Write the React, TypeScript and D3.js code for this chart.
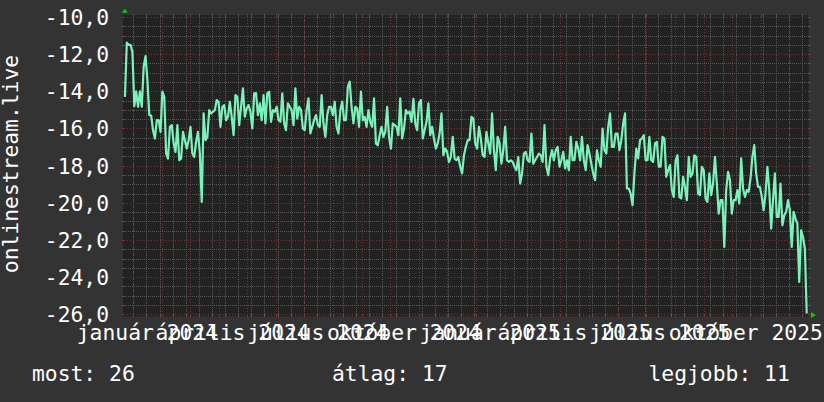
import React, { useEffect } from 'react';
import * as d3 from 'd3';

const W = 824;
const H = 402;

// data: one reading every 2 days, starting 2023-12-23
const seriesStart = Date.UTC(2023, 11, 23);
const stepDays = 2;
const values: number[] = [
  -14.3, -11.38, -11.5, -11.5, -11.9, -14.8, -14.0, -14.83, -14.0, -14.83,
  -12.68, -12.1, -13.4, -15.28, -15.3, -16.1, -16.54, -15.55, -15.55, -16.18,
  -14.02, -14.3, -17.35, -17.62, -15.91, -15.82, -16.8, -17.26, -15.82, -17.7,
  -17.62, -16.18, -16.63, -17.08, -16.63, -15.91, -17.35, -17.53, -16.7, -16.18,
  -17.35, -19.95, -15.19, -16.63, -16.45, -15.01, -15.19, -15.1, -15.01, -14.47,
  -14.56, -15.91, -14.83, -14.74, -15.55, -15.37, -14.56, -15.37, -16.36, -14.2,
  -14.29, -15.82, -14.83, -13.84, -15.37, -14.92, -14.74, -15.1, -16.0, -14.11,
  -14.1, -15.28, -14.65, -15.55, -14.2, -15.73, -14.11, -14.02, -15.64, -15.01,
  -15.1, -14.83, -15.55, -15.64, -14.11, -15.73, -16.09, -14.65, -14.83, -15.01,
  -15.82, -13.84, -15.46, -14.83, -15.01, -16.0, -16.09, -15.01, -14.38, -16.27,
  -15.91, -15.55, -15.28, -15.82, -15.91, -14.2, -15.73, -16.45, -15.28, -14.83,
  -14.83, -15.28, -14.56, -15.91, -16.27, -15.01, -14.56, -15.55, -15.55, -13.75,
  -13.48, -14.83, -15.73, -14.83, -14.92, -15.91, -14.02, -15.55, -15.37, -15.91,
  -15.01, -15.64, -15.91, -14.38, -16.8, -16.9, -16.36, -15.91, -16.45, -16.18,
  -14.83, -16.45, -17.08, -15.73, -15.82, -15.91, -16.36, -14.38, -16.54, -16.0,
  -15.01, -15.19, -15.1, -15.64, -14.4, -15.73, -16.09, -14.65, -14.47, -16.54,
  -16.09, -15.64, -14.65, -16.36, -15.91, -16.54, -17.08, -16.8, -16.27, -15.19,
  -17.44, -17.08, -17.26, -17.8, -17.53, -16.45, -17.62, -17.71, -17.53, -18.06,
  -18.42, -17.44, -16.99, -16.63, -16.63, -15.37, -15.46, -16.8, -17.08, -15.91,
  -16.54, -17.44, -17.53, -16.18, -16.8, -17.35, -15.19, -17.17, -18.24, -16.45,
  -16.8, -17.89, -17.17, -15.91, -17.71, -17.8, -17.71, -17.8, -18.06, -18.24,
  -17.53, -18.96, -18.42, -17.35, -17.26, -17.71, -17.8, -16.27, -17.89, -17.71,
  -17.53, -17.35, -17.44, -17.8, -15.82, -18.06, -18.51, -17.62, -17.17, -17.71,
  -17.17, -16.99, -18.06, -17.71, -17.26, -18.15, -17.71, -18.24, -16.45, -17.71,
  -17.71, -16.72, -17.08, -17.71, -16.45, -17.71, -18.24, -16.9, -17.35, -17.89,
  -18.42, -18.78, -17.17, -17.71, -18.06, -16.0, -17.17, -17.35, -15.91, -15.19,
  -16.99, -16.99, -16.27, -16.27, -17.17, -16.63, -15.73, -15.19, -19.23, -19.23,
  -19.5, -20.13, -18.42, -17.08, -17.61, -16.63, -16.54, -16.36, -17.71, -17.71,
  -16.45, -17.71, -17.8, -16.8, -16.72, -18.06, -18.06, -16.45, -16.54, -18.6,
  -18.24, -17.97, -19.32, -19.68, -17.71, -17.44, -19.68, -19.77, -18.6, -19.14,
  -19.86, -17.53, -18.6, -18.42, -17.44, -17.53, -19.5, -19.59, -18.06, -18.24,
  -19.77, -19.95, -18.42, -19.59, -18.96, -17.53, -18.96, -20.58, -19.86, -19.86,
  -22.37, -19.32, -18.33, -18.78, -20.58, -19.86, -19.86, -19.32, -20.04, -17.61,
  -19.23, -19.68, -19.32, -19.41, -18.69, -17.53, -16.9, -18.42, -19.14, -19.14,
  -19.68, -20.4, -19.5, -18.06, -19.32, -21.39, -19.86, -18.42, -20.76, -20.76,
  -18.96, -21.21, -20.67, -20.49, -19.86, -20.4, -22.37, -20.49, -20.85, -21.12,
  -24.26, -21.48, -21.84, -22.46, -25.96,
];

const yTicks = [-10, -12, -14, -16, -18, -20, -22, -24, -26];
const monthNames = [
  'január', 'február', 'március', 'április', 'május', 'június',
  'július', 'augusztus', 'szeptember', 'október', 'november', 'december',
];
const axisTitle = 'onlinestream.live';
const legendNames = ['most', 'átlag', 'legjobb'];
const legendValues = [26, 17, 11];

const DAY = 86400000;
const FONT = '"DejaVu Sans Mono", monospace';
const FS = 21.33;

export default function App() {
  useEffect(() => {
    document.body.style.margin = '0';
  }, []);

  const t0 = new Date(Date.UTC(2023, 11, 22));
  const t1 = new Date(Date.UTC(2025, 11, 22));
  const x = d3.scaleUtc().domain([t0, t1]).range([124, 808.6]);
  const y = d3.scaleLinear().domain([-26, -10]).range([314.3, 17]);

  const data = values.map((v, i) => ({ t: new Date(seriesStart + i * stepDays * DAY), v }));
  const line = d3
    .line<{ t: Date; v: number }>()
    .x((d) => x(d.t))
    .y((d) => y(d.v));

  const majorV = d3.utcMonth.range(t0, t1);
  const anchor = Date.UTC(2024, 0, 1);
  const minorV = d3.utcDay.range(t0, t1).filter((d) => Math.round((d.getTime() - anchor) / DAY) % 14 === 0);
  const labelMonths = (d3.utcMonth.every(3) as d3.CountableTimeInterval).range(t0, t1);
  const minorH = d3.range(-26, -9.99, 0.5).filter((v) => Math.abs(v % 2) > 0.01);

  const top = y(-10);
  const bot = y(-26);
  const left = x(t0);
  const right = x(t1);
  const px = (v: number) => Math.round(v) + 0.5;

  const minorColor = '#585858';
  const majorColor = '#7a3434';

  return (
    <svg
      width={W}
      height={H}
      style={{ position: 'fixed', left: 0, top: 0, display: 'block' }}
      fontFamily={FONT}
    >
      <rect x={0} y={0} width={W} height={H} fill="#333333" />
      <rect x={left - 1} y={top - 2} width={right - left + 1} height={bot - top + 4} fill="#222222" />

      {/* minor grid */}
      <g shapeRendering="crispEdges">
        {minorV.map((d, i) => (
          <g key={'mv' + i}>
            <line x1={px(x(d))} x2={px(x(d))} y1={top} y2={bot} stroke={minorColor} strokeDasharray="1,1" />
            <line x1={px(x(d))} x2={px(x(d))} y1={top - 3} y2={top} stroke={minorColor} />
            <line x1={px(x(d))} x2={px(x(d))} y1={bot} y2={bot + 3} stroke={minorColor} />
          </g>
        ))}
        {minorH.map((v, i) => (
          <g key={'mh' + i}>
            <line x1={left} x2={right} y1={px(y(v))} y2={px(y(v))} stroke={minorColor} strokeDasharray="1,1" />
            <line x1={left - 2} x2={left} y1={px(y(v))} y2={px(y(v))} stroke={minorColor} />
            <line x1={right} x2={right + 2} y1={px(y(v))} y2={px(y(v))} stroke={minorColor} />
          </g>
        ))}
        {/* major grid */}
        {majorV.map((d, i) => (
          <g key={'Mv' + i}>
            <line x1={px(x(d))} x2={px(x(d))} y1={top} y2={bot} stroke={majorColor} strokeDasharray="1,2" />
            <line x1={px(x(d))} x2={px(x(d))} y1={top - 3} y2={top} stroke={majorColor} />
            <line x1={px(x(d))} x2={px(x(d))} y1={bot} y2={bot + 3} stroke={majorColor} />
          </g>
        ))}
        {yTicks.map((v, i) => (
          <g key={'Mh' + i}>
            <line x1={left} x2={right} y1={px(y(v))} y2={px(y(v))} stroke={majorColor} strokeDasharray="1,2" />
            <line x1={left - 2} x2={left} y1={px(y(v))} y2={px(y(v))} stroke={majorColor} />
            <line x1={right} x2={right + 2} y1={px(y(v))} y2={px(y(v))} stroke={majorColor} />
          </g>
        ))}
      </g>

      {/* series */}
      <path d={line(data) || ''} fill="none" stroke="#7af2ba" strokeWidth={2.2} strokeLinejoin="round" />

      {/* arrows */}
      <path
        d={`M${left + 0.8},${top - 8.3} L${left - 2.2},${top - 4.3} L${left + 3.8},${top - 4.3} Z`}
        fill="#00d000"
      />
      <path
        d={`M${right + 7.2},${bot + 0.7} L${right + 2.4},${bot - 2.3} L${right + 2.4},${bot + 3.7} Z`}
        fill="#00d000"
      />

      {/* y tick labels */}
      {yTicks.map((v, i) => (
        <text key={'yl' + i} x={109} y={y(v) + 8} textAnchor="end" fontSize={FS} fill="#ffffff">
          {v.toFixed(1).replace('.', ',')}
        </text>
      ))}

      {/* x labels */}
      {labelMonths.map((d, i) => (
        <text
          key={'xl' + i}
          x={x(new Date(d.getTime() + 15 * DAY))}
          y={340}
          textAnchor="middle"
          fontSize={FS}
          fill="#ffffff"
        >
          {monthNames[d.getUTCMonth()] + ' ' + d.getUTCFullYear()}
        </text>
      ))}

      {/* axis title */}
      <text
        transform={`translate(18.3,164) rotate(-90)`}
        textAnchor="middle"
        fontSize={FS}
        fill="#ffffff"
      >
        {axisTitle}
      </text>

      {/* legend */}
      {legendNames.map((n, i) => (
        <text key={'lg' + i} x={[32, 332, 648.5][i]} y={381} fontSize={FS} fill="#ffffff" xmlSpace="preserve">
          {n + ': ' + legendValues[i]}
        </text>
      ))}
    </svg>
  );
}
